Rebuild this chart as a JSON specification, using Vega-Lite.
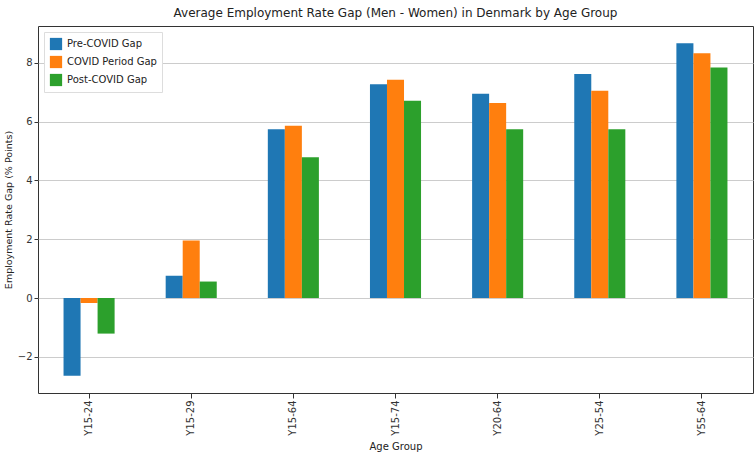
{
  "$schema": "https://vega.github.io/schema/vega-lite/v6.json",
  "width": 715,
  "height": 367,
  "autosize": {"type": "none"},
  "padding": {"left": 38, "top": 26, "right": 1, "bottom": 63},
  "background": "white",
  "title": {"text": "Average Employment Rate Gap (Men - Women) in Denmark by Age Group", "font": "DejaVu Sans", "fontSize": 12, "fontWeight": "normal", "color": "#222", "offset": 6},
  "config": {
    "view": {"stroke": "#333", "strokeWidth": 1},
    "font": "DejaVu Sans"
  },
  "data": {"values": [
    {"age": "Y15-24", "period": "Pre-COVID Gap", "gap": -2.64},
    {"age": "Y15-24", "period": "COVID Period Gap", "gap": -0.17},
    {"age": "Y15-24", "period": "Post-COVID Gap", "gap": -1.21},
    {"age": "Y15-29", "period": "Pre-COVID Gap", "gap": 0.76},
    {"age": "Y15-29", "period": "COVID Period Gap", "gap": 1.96},
    {"age": "Y15-29", "period": "Post-COVID Gap", "gap": 0.56},
    {"age": "Y15-64", "period": "Pre-COVID Gap", "gap": 5.74},
    {"age": "Y15-64", "period": "COVID Period Gap", "gap": 5.86},
    {"age": "Y15-64", "period": "Post-COVID Gap", "gap": 4.79},
    {"age": "Y15-74", "period": "Pre-COVID Gap", "gap": 7.27},
    {"age": "Y15-74", "period": "COVID Period Gap", "gap": 7.42},
    {"age": "Y15-74", "period": "Post-COVID Gap", "gap": 6.71},
    {"age": "Y20-64", "period": "Pre-COVID Gap", "gap": 6.95},
    {"age": "Y20-64", "period": "COVID Period Gap", "gap": 6.63},
    {"age": "Y20-64", "period": "Post-COVID Gap", "gap": 5.74},
    {"age": "Y25-54", "period": "Pre-COVID Gap", "gap": 7.62},
    {"age": "Y25-54", "period": "COVID Period Gap", "gap": 7.05},
    {"age": "Y25-54", "period": "Post-COVID Gap", "gap": 5.74},
    {"age": "Y55-64", "period": "Pre-COVID Gap", "gap": 8.66},
    {"age": "Y55-64", "period": "COVID Period Gap", "gap": 8.32},
    {"age": "Y55-64", "period": "Post-COVID Gap", "gap": 7.84}
  ]},
  "mark": {"type": "bar"},
  "encoding": {
    "x": {
      "field": "age", "type": "nominal", "title": "Age Group",
      "scale": {"paddingInner": 0.5, "paddingOuter": 0.25},
      "axis": {"labelAngle": 270, "labelFontSize": 10, "titleFontSize": 10, "titleFontWeight": "normal", "domain": false, "tickColor": "#333", "labelColor": "#333", "titleColor": "#222", "titlePadding": 6, "grid": false}
    },
    "xOffset": {"field": "period", "type": "nominal", "sort": ["Pre-COVID Gap", "COVID Period Gap", "Post-COVID Gap"], "scale": {"paddingInner": 0, "paddingOuter": 0}},
    "y": {
      "field": "gap", "type": "quantitative", "title": "Employment Rate Gap (% Points)",
      "scale": {"domain": [-3.23, 9.25], "nice": false, "zero": false},
      "axis": {"values": [-2, 0, 2, 4, 6, 8], "labelFontSize": 10, "labelPadding": 2, "tickSize": 4, "titleFontSize": 9.5, "titleFontWeight": "normal", "domain": false, "tickColor": "#333", "labelColor": "#333", "titleColor": "#222", "gridColor": "#cccccc", "gridWidth": 1.2, "titlePadding": 4}
    },
    "color": {
      "field": "period", "type": "nominal",
      "sort": ["Pre-COVID Gap", "COVID Period Gap", "Post-COVID Gap"],
      "scale": {"domain": ["Pre-COVID Gap", "COVID Period Gap", "Post-COVID Gap"], "range": ["#1f77b4", "#ff7f0e", "#2ca02c"]},
      "legend": {"title": null, "orient": "top-left", "offset": 6, "symbolType": "square", "symbolSize": 150, "labelFontSize": 10, "labelColor": "#222", "fillColor": "white", "strokeColor": "#ddd", "padding": 5, "rowPadding": 4}
    }
  }
}
